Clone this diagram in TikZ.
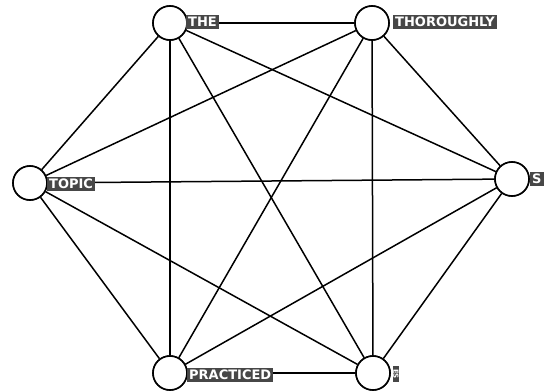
\documentclass[tikz,border=0pt]{standalone}
\usepackage{fontspec}
\newfontfamily\labfont{DejaVu Sans}
\begin{document}
\begin{tikzpicture}[x=1pt,y=-1pt,
  vert/.style={circle,draw=black,line width=1.6pt,fill=white,minimum size=34pt,inner sep=0pt},
  edge/.style={draw=black,line width=1.5pt},
  lab/.style={fill=black!72,text=white,font=\labfont\bfseries\fontsize{13}{13}\selectfont,inner sep=2pt,anchor=west}]
\useasboundingbox (0,0) rectangle (545,391);
\node[vert] (the) at (170,23) {};
\node[vert] (tho) at (372,23) {};
\node[vert] (top) at (30,183) {};
\node[vert] (s) at (512,179) {};
\node[vert] (pra) at (170,373) {};
\node[vert] (br) at (373,373) {};
\foreach \a/\b in {the/tho,the/top,the/pra,the/br,the/s,tho/top,tho/pra,tho/br,tho/s,top/s,top/pra,top/br,s/pra,s/br,pra/br}
  \draw[edge] (\a) -- (\b);
\foreach \n in {the,tho,top,s,pra,br}
  \node[vert] at (\n) {};
\node[lab] (lthe) at (186,22) {THE};
\node[lab] (ltho) at (393,22) {THOROUGHLY};
\node[lab] (ltop) at (47,184) {TOPIC};
\node[lab] (ls) at (530,179) {S};
\node[lab] (lpra) at (187,375) {PRACTICED};
\node[lab,anchor=center,rotate=-90,font=\labfont\bfseries\fontsize{7}{7}\selectfont,inner ysep=0.8pt,inner xsep=3.5pt] (lbr) at (396,374) {ES};
\end{tikzpicture}
\end{document}
